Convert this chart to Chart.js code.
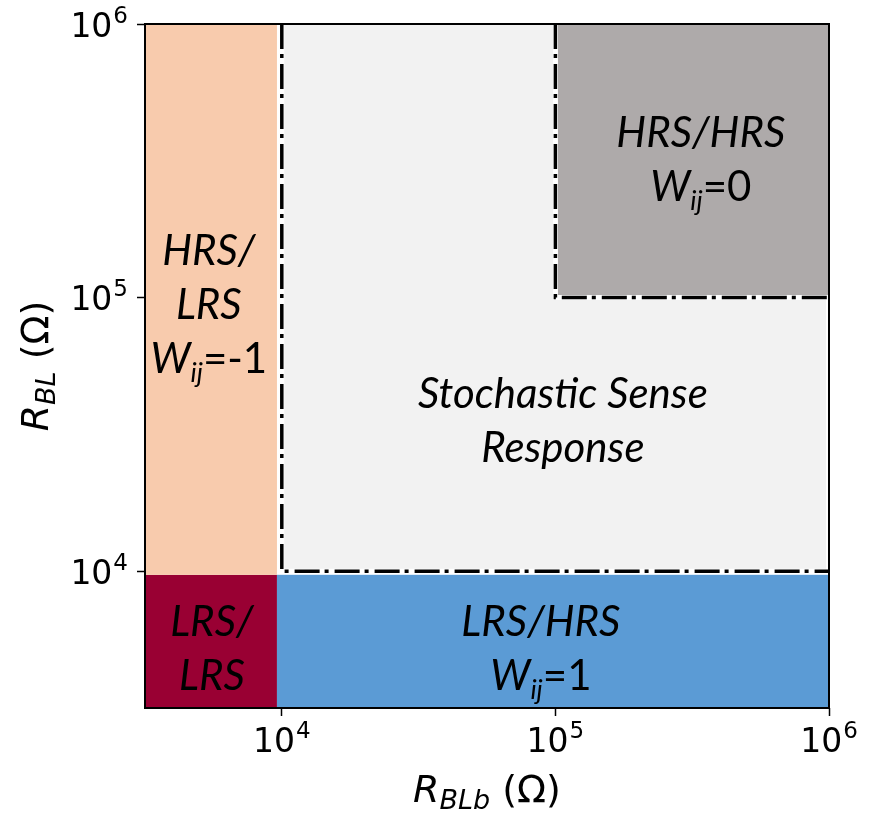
<!DOCTYPE html>
<html>
<head>
<meta charset="utf-8">
<script src="https://cdn.jsdelivr.net/npm/chart.js@4/dist/chart.umd.min.js"></script>
<style>
  html, body { margin: 0; padding: 0; background: #fff; }
  #wrap { width: 871px; height: 815px; }
</style>
</head>
<body>
<div id="wrap"><canvas id="chart" width="871" height="815"></canvas></div>
<script>
// Axis range and ticks (ohms, log scale)
const axisMin = Math.pow(10, 3.5);
const axisMax = 1e6;
const tickValues = [1e4, 1e5, 1e6];
const tickBase = ['10', '10', '10'];
const tickExponent = ['4', '5', '6'];

// Operating regions of the bit-line pair
const regionNames = ['LRS/LRS', 'HRS/LRS', 'LRS/HRS', 'Stochastic', 'HRS/HRS'];
const regionX0 = [axisMin, axisMin, 9600, 1e4, 1.02e5];
const regionX1 = [9600, 9600, 1e6, 9.75e5, 1e6];
const regionY0 = [axisMin, 9700, axisMin, 1e4, 1.01e5];
const regionY1 = [9700, 1e6, 9700, 1e6, 1e6];
const regionColors = ['#990033', '#F8CBAD', '#5B9BD5', '#F2F2F2', '#AEAAAA'];

// Sensing thresholds (dash-dot boundaries)
const lowBoundX = [1e4, 1e4, 1e6];
const lowBoundY = [1e6, 1e4, 1e4];
const highBoundX = [1e5, 1e5, 1e6];
const highBoundY = [1e6, 1e5, 1e5];

// Region captions: anchor (data coords) and lines of [text, style] runs
const captionX = [5.55e3, 5.41e3, 8.85e4, 1.065e5, 3.4e5];
const captionY = [5.26e3, 9.48e4, 5.26e3, 3.56e4, 3.22e5];
const captionLines = [
  [[['LRS/', 'i']], [['LRS', 'i']]],
  [[['HRS/', 'i']], [['LRS', 'i']], [['W', 'i'], ['ij', 'sub'], ['=-1', 'n']]],
  [[['LRS/HRS', 'i']], [['W', 'i'], ['ij', 'sub'], ['=1', 'n']]],
  [[['Stochastic Sense', 'i']], [['Response', 'i']]],
  [[['HRS/HRS', 'i']], [['W', 'i'], ['ij', 'sub'], ['=0', 'n']]]
];

const toPoints = (xs, ys) => xs.map((x, i) => ({ x: x, y: ys[i] }));

const CAPTION_FONT = 'Lato';
const CAPTION_SIZE = 42;
const CAPTION_GAP = 54;

const regionPlugin = {
  id: 'regions',
  beforeDatasetsDraw(chart) {
    const { ctx, chartArea, scales: { x, y } } = chart;
    ctx.save();
    ctx.beginPath();
    ctx.rect(chartArea.left, chartArea.top, chartArea.width, chartArea.height);
    ctx.clip();
    regionNames.forEach((name, i) => {
      const l = x.getPixelForValue(regionX0[i]);
      const r = x.getPixelForValue(regionX1[i]);
      const b = y.getPixelForValue(regionY0[i]);
      const t = y.getPixelForValue(regionY1[i]);
      ctx.fillStyle = regionColors[i];
      ctx.fillRect(l, t, r - l, b - t);
    });
    ctx.restore();
  }
};

function runFont(style) {
  if (style === 'sub') return 'italic 27px ' + CAPTION_FONT;
  if (style === 'n') return 'normal ' + CAPTION_SIZE + 'px ' + CAPTION_FONT;
  return 'italic ' + CAPTION_SIZE + 'px ' + CAPTION_FONT;
}

function drawRuns(ctx, runs, cx, baseline) {
  let total = 0;
  runs.forEach(([text, style]) => {
    ctx.font = runFont(style);
    total += ctx.measureText(text).width;
  });
  let xPos = cx - total / 2;
  runs.forEach(([text, style]) => {
    ctx.font = runFont(style);
    ctx.fillText(text, xPos, style === 'sub' ? baseline + 9 : baseline);
    xPos += ctx.measureText(text).width;
  });
}

const captionPlugin = {
  id: 'captions',
  afterDatasetsDraw(chart) {
    const { ctx, scales: { x, y } } = chart;
    ctx.save();
    ctx.fillStyle = '#000';
    ctx.textBaseline = 'alphabetic';
    ctx.textAlign = 'left';
    const capHalf = CAPTION_SIZE * 0.72 / 2;
    captionLines.forEach((lines, i) => {
      const cx = x.getPixelForValue(captionX[i]);
      const cy = y.getPixelForValue(captionY[i]);
      const n = lines.length;
      lines.forEach((runs, j) => {
        const base = cy + (j - (n - 1) / 2) * CAPTION_GAP + capHalf;
        drawRuns(ctx, runs, cx, base);
      });
    });
    ctx.restore();
  }
};

const framePlugin = {
  id: 'frame',
  afterDatasetsDraw(chart) {
    const { ctx, chartArea } = chart;
    ctx.save();
    ctx.strokeStyle = '#000';
    ctx.lineWidth = 2;
    ctx.strokeRect(chartArea.left, chartArea.top, chartArea.width, chartArea.height);
    ctx.restore();
  }
};

// Power-of-ten tick labels: base digits with a raised exponent
const TICK_BASE_FONT = '33px "DejaVu Sans"';
const TICK_EXP_FONT = '23px "DejaVu Sans"';

function powerLabelWidth(ctx, i) {
  ctx.font = TICK_BASE_FONT;
  const wb = ctx.measureText(tickBase[i]).width;
  ctx.font = TICK_EXP_FONT;
  const we = ctx.measureText(tickExponent[i]).width;
  return [wb, we];
}

function drawPowerLabel(ctx, i, left, baseline) {
  const [wb] = powerLabelWidth(ctx, i);
  ctx.font = TICK_BASE_FONT;
  ctx.fillText(tickBase[i], left, baseline);
  ctx.font = TICK_EXP_FONT;
  ctx.fillText(tickExponent[i], left + wb + 1, baseline - 14);
}

const tickLabelPlugin = {
  id: 'powerTicks',
  afterDraw(chart) {
    const { ctx, chartArea, scales: { x, y } } = chart;
    ctx.save();
    ctx.fillStyle = '#000';
    ctx.textAlign = 'left';
    ctx.textBaseline = 'alphabetic';
    x.ticks.forEach((t, i) => {
      const px = x.getPixelForValue(t.value);
      const [wb, we] = powerLabelWidth(ctx, i);
      drawPowerLabel(ctx, i, px - (wb + we + 1) / 2, chartArea.bottom + 44);
    });
    y.ticks.forEach((t, i) => {
      const py = y.getPixelForValue(t.value);
      const [wb, we] = powerLabelWidth(ctx, i);
      drawPowerLabel(ctx, i, chartArea.left - 17 - (wb + we + 1), py + 12.5);
    });
    ctx.restore();
  }
};

// Axis titles with subscripts: R_BLb (Ω) and R_BL (Ω)
function drawAxisTitle(ctx, sub, cx, baseline) {
  const big = 38, small = 27;
  const parts = [
    ['R', 'oblique ' + big + 'px "DejaVu Sans"', 0],
    [sub, 'oblique ' + small + 'px "DejaVu Sans"', 7],
    [' (\u03A9)', 'normal ' + big + 'px "DejaVu Sans"', 0]
  ];
  let total = 0;
  parts.forEach(([t, f]) => { ctx.font = f; total += ctx.measureText(t).width; });
  let xPos = cx - total / 2;
  parts.forEach(([t, f, dy]) => {
    ctx.font = f;
    ctx.fillText(t, xPos, baseline + dy);
    xPos += ctx.measureText(t).width;
  });
}

const titlePlugin = {
  id: 'axisTitles',
  afterDraw(chart) {
    const { ctx, chartArea } = chart;
    ctx.save();
    ctx.fillStyle = '#000';
    ctx.textAlign = 'left';
    ctx.textBaseline = 'alphabetic';
    const midX = (chartArea.left + chartArea.right) / 2;
    const midY = (chartArea.top + chartArea.bottom) / 2;
    drawAxisTitle(ctx, 'BLb', midX, 802);
    ctx.translate(48, midY);
    ctx.rotate(-Math.PI / 2);
    drawAxisTitle(ctx, 'BL', 0, 0);
    ctx.restore();
  }
};

function logAxis(fitFn) {
  return {
    type: 'logarithmic',
    min: axisMin,
    max: axisMax,
    afterBuildTicks(scale) { scale.ticks = tickValues.map(v => ({ value: v })); },
    afterFit: fitFn,
    ticks: { display: false, autoSkip: false },
    grid: {
      drawOnChartArea: false,
      drawTicks: true,
      tickLength: 8,
      tickColor: '#000',
      tickWidth: 1.5
    },
    border: { display: false },
    title: { display: false }
  };
}

const boundaryStyle = { showLine: true, pointRadius: 0, fill: false, tension: 0 };

new Chart(document.getElementById('chart').getContext('2d'), {
  type: 'scatter',
  data: {
    datasets: [
      Object.assign({ data: toPoints(lowBoundX, lowBoundY), borderColor: '#fff', borderWidth: 5, order: 2 }, boundaryStyle),
      Object.assign({ data: toPoints(highBoundX, highBoundY), borderColor: '#fff', borderWidth: 5, order: 2 }, boundaryStyle),
      Object.assign({ data: toPoints(lowBoundX, lowBoundY), borderColor: '#000', borderWidth: 3.5, borderDash: [25, 5, 4, 6], order: 1 }, boundaryStyle),
      Object.assign({ data: toPoints(highBoundX, highBoundY), borderColor: '#000', borderWidth: 3.5, borderDash: [25, 5, 4, 6], order: 1 }, boundaryStyle)
    ]
  },
  options: {
    responsive: false,
    animation: false,
    events: [],
    layout: { padding: { top: 24, right: 42, left: 0, bottom: 0 } },
    plugins: { legend: { display: false }, tooltip: { enabled: false } },
    scales: {
      x: logAxis(scale => { scale.height = 107; }),
      y: logAxis(scale => { scale.width = 145; })
    }
  },
  plugins: [regionPlugin, captionPlugin, framePlugin, tickLabelPlugin, titlePlugin]
});
</script>
</body>
</html>
